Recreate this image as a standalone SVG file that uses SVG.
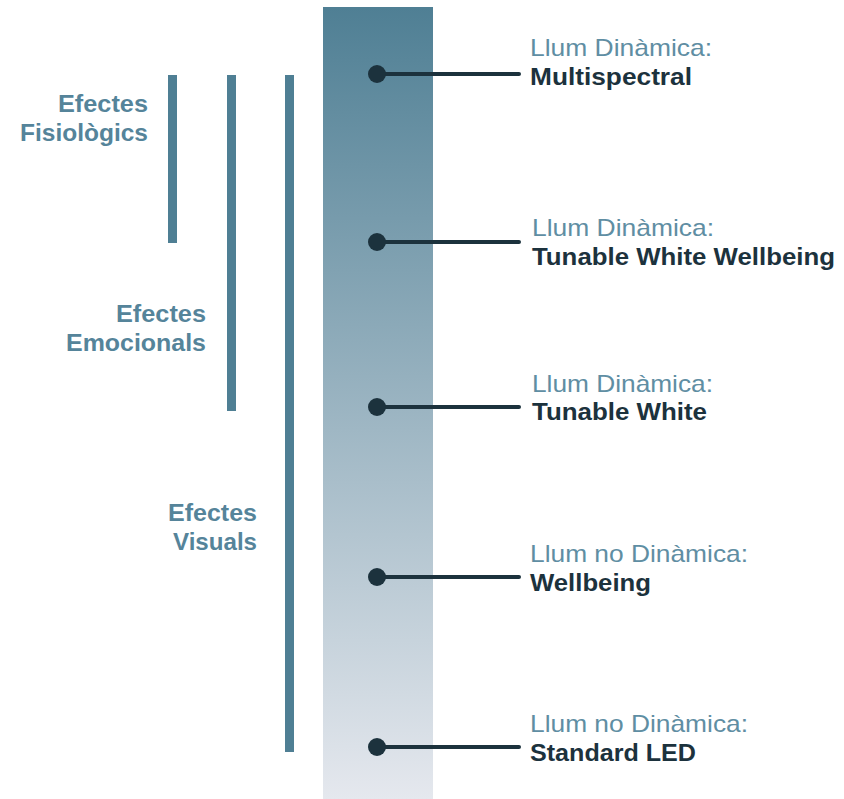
<svg xmlns="http://www.w3.org/2000/svg" width="844" height="799" viewBox="0 0 844 799">
<defs>
<linearGradient id="g" x1="0" y1="0" x2="0" y2="1">
<stop offset="0" stop-color="#4f7f94"/>
<stop offset="1" stop-color="#e5e8ee"/>
</linearGradient>
<style>
.bar{fill:#4f7f94}
.lbl{font-family:"Liberation Sans",Arial,sans-serif;font-weight:bold;font-size:24px;fill:#55849a}
.sub{font-family:"Liberation Sans",Arial,sans-serif;font-size:24px;fill:#5f8ea3}
.main{font-family:"Liberation Sans",Arial,sans-serif;font-weight:bold;font-size:24px;fill:#1c323d}
.con{stroke:#1c323d;stroke-width:4;stroke-linecap:round}
.dot{fill:#1c323d}
</style>
</defs>
<rect x="0" y="0" width="844" height="799" fill="#ffffff"/>
<rect id="scale" x="323" y="7" width="110" height="792" fill="url(#g)"/>
<g id="fisiologics">
<rect class="bar" x="168" y="75" width="9" height="168"/>
<text class="lbl" x="58" y="112" textLength="90" lengthAdjust="spacingAndGlyphs">Efectes</text>
<text class="lbl" x="20" y="141" textLength="128" lengthAdjust="spacingAndGlyphs">Fisiològics</text>
</g>
<g id="emocionals">
<rect class="bar" x="227" y="75" width="9" height="336"/>
<text class="lbl" x="116" y="322" textLength="90" lengthAdjust="spacingAndGlyphs">Efectes</text>
<text class="lbl" x="66" y="351" textLength="140" lengthAdjust="spacingAndGlyphs">Emocionals</text>
</g>
<g id="visuals">
<rect class="bar" x="285" y="75" width="9" height="677"/>
<text class="lbl" x="168" y="521" textLength="89" lengthAdjust="spacingAndGlyphs">Efectes</text>
<text class="lbl" x="173" y="550" textLength="84" lengthAdjust="spacingAndGlyphs">Visuals</text>
</g>
<g id="connectors">
<line class="con" x1="376" y1="74" x2="519" y2="74"/>
<line class="con" x1="376" y1="242" x2="519" y2="242"/>
<line class="con" x1="376" y1="407" x2="519" y2="407"/>
<line class="con" x1="376" y1="577" x2="519" y2="577"/>
<line class="con" x1="376" y1="747" x2="519" y2="747"/>
<circle class="dot" cx="377" cy="74" r="9"/>
<circle class="dot" cx="377" cy="242" r="9"/>
<circle class="dot" cx="377" cy="407" r="9"/>
<circle class="dot" cx="377" cy="577" r="9"/>
<circle class="dot" cx="377" cy="747" r="9"/>
</g>
<g id="multispectral">
<text class="sub" x="530" y="56" textLength="182" lengthAdjust="spacingAndGlyphs">Llum Dinàmica:</text>
<text class="main" x="530" y="85" textLength="162" lengthAdjust="spacingAndGlyphs">Multispectral</text>
</g>
<g id="tunable-white-wellbeing">
<text class="sub" x="532" y="236" textLength="182" lengthAdjust="spacingAndGlyphs">Llum Dinàmica:</text>
<text class="main" x="532" y="265" textLength="303" lengthAdjust="spacingAndGlyphs">Tunable White Wellbeing</text>
</g>
<g id="tunable-white">
<text class="sub" x="532" y="392" textLength="181" lengthAdjust="spacingAndGlyphs">Llum Dinàmica:</text>
<text class="main" x="532" y="420" textLength="175" lengthAdjust="spacingAndGlyphs">Tunable White</text>
</g>
<g id="wellbeing">
<text class="sub" x="530" y="562" textLength="218" lengthAdjust="spacingAndGlyphs">Llum no Dinàmica:</text>
<text class="main" x="530" y="591" textLength="121" lengthAdjust="spacingAndGlyphs">Wellbeing</text>
</g>
<g id="standard-led">
<text class="sub" x="530" y="732" textLength="218" lengthAdjust="spacingAndGlyphs">Llum no Dinàmica:</text>
<text class="main" x="530" y="761" textLength="166" lengthAdjust="spacingAndGlyphs">Standard LED</text>
</g>
</svg>
